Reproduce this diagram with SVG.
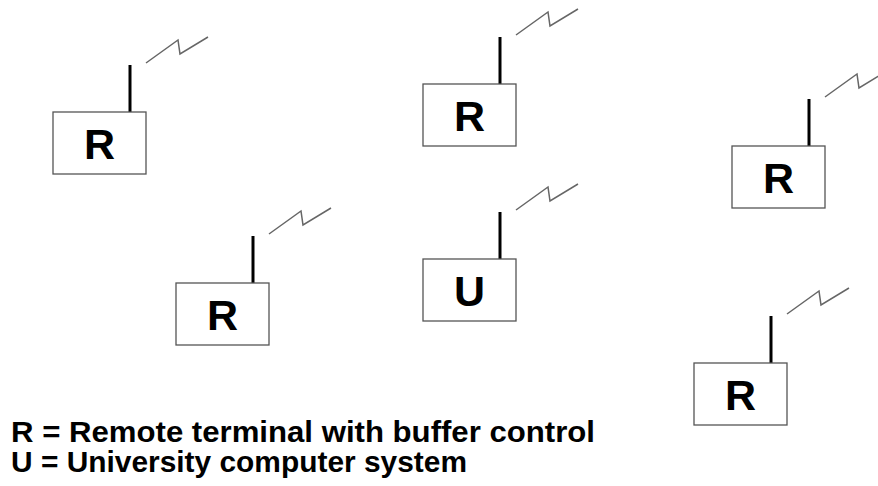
<svg xmlns="http://www.w3.org/2000/svg" width="878" height="486" viewBox="0 0 878 486">
<style>
.box{fill:#fff;stroke:#555;stroke-width:1.3}
.ant{stroke:#000;stroke-width:3;fill:none}
.zig{stroke:#666;stroke-width:1.5;fill:none}
.lbl{font-family:"Liberation Sans",Arial,sans-serif;font-weight:bold;font-size:43px;text-anchor:middle;fill:#000}
.leg{font-family:"Liberation Sans",Arial,sans-serif;font-weight:bold;font-size:29px;fill:#000}
</style>
<defs>
<g id="unit">
<path class="ant" d="M77,-47V0"/>
<path class="zig" d="M93,-49L125,-72L127,-58L155,-75"/>
<rect class="box" x="0" y="0" width="93" height="62"/>
</g>
</defs>
<g id="connectors"></g>
<g id="node-r1" transform="translate(53,112)">
<use href="#unit"/>
<text class="lbl" x="46.5" y="47">R</text>
</g>
<g id="node-r2" transform="translate(423,84)">
<use href="#unit"/>
<text class="lbl" x="46.5" y="47">R</text>
</g>
<g id="node-r3" transform="translate(732,146)">
<use href="#unit"/>
<text class="lbl" x="46.5" y="47">R</text>
</g>
<g id="node-r4" transform="translate(176,283)">
<use href="#unit"/>
<text class="lbl" x="46.5" y="47">R</text>
</g>
<g id="node-u" transform="translate(423,259)">
<use href="#unit"/>
<text class="lbl" x="46.5" y="47">U</text>
</g>
<g id="node-r5" transform="translate(694,363)">
<use href="#unit"/>
<text class="lbl" x="46.5" y="47">R</text>
</g>
<g id="legend">
<text class="leg" x="11" y="442" textLength="584" lengthAdjust="spacingAndGlyphs">R = Remote terminal with buffer control</text>
<text class="leg" x="11" y="472" textLength="456" lengthAdjust="spacingAndGlyphs">U = University computer system</text>
</g>
</svg>
